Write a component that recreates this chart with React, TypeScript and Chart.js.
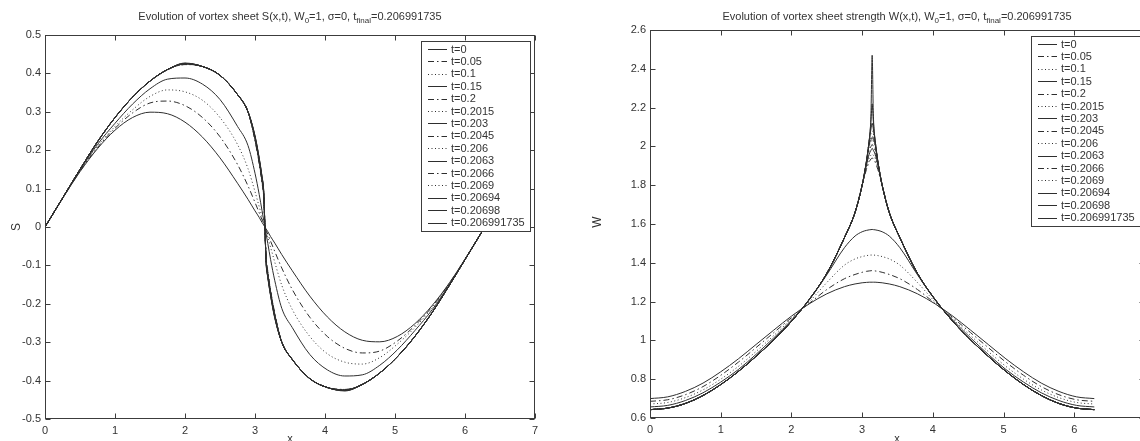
import React, { useEffect, useRef } from 'react';
import { Chart, registerables } from 'chart.js';
Chart.register(...registerables);

const FONT = '"Liberation Sans", Arial, Helvetica, sans-serif';

// ---------- data ----------
const tLabels = ['t=0', 't=0.05', 't=0.1', 't=0.15', 't=0.2', 't=0.2015', 't=0.203', 't=0.2045', 't=0.206', 't=0.2063', 't=0.2066', 't=0.2069', 't=0.20694', 't=0.20698', 't=0.206991735'];
const lineStyles = ['solid', 'dashdot', 'dot', 'solid', 'dashdot', 'dot', 'solid', 'dashdot', 'dot', 'solid', 'dashdot', 'dot', 'solid', 'solid', 'solid'];

const xGrid = [0, 0.25, 0.5, 0.75, 1, 1.25, 1.5, 1.75, 2, 2.25, 2.5, 2.75, 2.9, 3.0, 3.06, 3.1, 3.125, 3.1416, 3.158, 3.183, 3.223, 3.283, 3.383, 3.533, 3.783, 4.033, 4.283, 4.533, 4.783, 5.033, 5.283, 5.533, 5.783, 6.033, 6.283];

const xTicks = [0, 1, 2, 3, 4, 5, 6, 7];
const sTicks = [-0.5, -0.4, -0.3, -0.2, -0.1, 0, 0.1, 0.2, 0.3, 0.4, 0.5];
const wTicks = [0.6, 0.8, 1, 1.2, 1.4, 1.6, 1.8, 2, 2.2, 2.4, 2.6];

// S(x,t)
const s_0 = [0, .074, .144, .204, .252, .285, .299, .295, .273, .234, .180, .114, .072, .042, .025, .012, .005, 0, -.005, -.012, -.025, -.042, -.072, -.114, -.180, -.234, -.273, -.295, -.299, -.285, -.252, -.204, -.144, -.074, 0];
const s_005 = [0, .074, .145, .207, .257, .297, .323, .328, .316, .285, .235, .163, .107, .064, .037, .019, .008, 0, -.008, -.019, -.037, -.064, -.107, -.163, -.235, -.285, -.316, -.328, -.323, -.297, -.257, -.207, -.145, -.074, 0];
const s_01 = [0, .075, .146, .210, .262, .305, .340, .357, .352, .330, .285, .215, .152, .092, .053, .027, .011, 0, -.011, -.027, -.053, -.092, -.152, -.215, -.285, -.330, -.352, -.357, -.340, -.305, -.262, -.210, -.146, -.075, 0];
const s_015 = [0, .075, .148, .215, .270, .320, .360, .385, .388, .372, .332, .262, .212, .140, .085, .043, .017, 0, -.017, -.043, -.085, -.140, -.212, -.262, -.332, -.372, -.388, -.385, -.360, -.320, -.270, -.215, -.148, -.075, 0];
const s_02 = [0, .075, .150, .222, .285, .338, .380, .410, .423, .418, .395, .345, .300, .225, .165, .115, .075, 0, -.075, -.115, -.165, -.225, -.300, -.345, -.395, -.418, -.423, -.410, -.380, -.338, -.285, -.222, -.150, -.075, 0];
const s_02015 = [0, .075, .150, .222, .285, .338, .380, .410, .423, .418, .395, .345, .300, .227, .167, .117, .077, 0, -.077, -.117, -.167, -.227, -.300, -.345, -.395, -.418, -.423, -.410, -.380, -.338, -.285, -.222, -.150, -.075, 0];
const s_0203 = [0, .075, .150, .222, .285, .338, .380, .410, .424, .418, .395, .345, .300, .228, .168, .119, .079, 0, -.079, -.119, -.168, -.228, -.300, -.345, -.395, -.418, -.424, -.410, -.380, -.338, -.285, -.222, -.150, -.075, 0];
const s_02045 = [0, .075, .150, .222, .285, .338, .380, .410, .424, .418, .395, .345, .300, .229, .170, .121, .081, 0, -.081, -.121, -.170, -.229, -.300, -.345, -.395, -.418, -.424, -.410, -.380, -.338, -.285, -.222, -.150, -.075, 0];
const s_0206 = [0, .075, .150, .222, .285, .338, .380, .410, .425, .418, .395, .345, .300, .231, .172, .123, .083, 0, -.083, -.123, -.172, -.231, -.300, -.345, -.395, -.418, -.425, -.410, -.380, -.338, -.285, -.222, -.150, -.075, 0];
const s_02063 = [0, .075, .150, .222, .285, .338, .380, .410, .425, .418, .395, .345, .300, .232, .173, .125, .085, 0, -.085, -.125, -.173, -.232, -.300, -.345, -.395, -.418, -.425, -.410, -.380, -.338, -.285, -.222, -.150, -.075, 0];
const s_02066 = [0, .075, .150, .222, .285, .338, .380, .410, .425, .418, .395, .345, .300, .233, .174, .126, .086, 0, -.086, -.126, -.174, -.233, -.300, -.345, -.395, -.418, -.425, -.410, -.380, -.338, -.285, -.222, -.150, -.075, 0];
const s_02069 = [0, .075, .150, .222, .285, .338, .380, .410, .426, .418, .395, .345, .300, .234, .175, .127, .087, 0, -.087, -.127, -.175, -.234, -.300, -.345, -.395, -.418, -.426, -.410, -.380, -.338, -.285, -.222, -.150, -.075, 0];
const s_020694 = [0, .075, .150, .222, .285, .338, .380, .410, .426, .418, .395, .345, .300, .235, .177, .129, .089, 0, -.089, -.129, -.177, -.235, -.300, -.345, -.395, -.418, -.426, -.410, -.380, -.338, -.285, -.222, -.150, -.075, 0];
const s_020698 = [0, .075, .150, .222, .285, .338, .380, .410, .426, .418, .395, .345, .300, .236, .178, .130, .090, 0, -.090, -.130, -.178, -.236, -.300, -.345, -.395, -.418, -.426, -.410, -.380, -.338, -.285, -.222, -.150, -.075, 0];
const s_final = [0, .075, .150, .222, .285, .338, .380, .410, .427, .418, .395, .345, .300, .238, .180, .132, .092, 0, -.092, -.132, -.180, -.238, -.300, -.345, -.395, -.418, -.427, -.410, -.380, -.338, -.285, -.222, -.150, -.075, 0];

// W(x,t)
const w_0 = [.700, .709, .737, .780, .838, .905, .979, 1.053, 1.125, 1.188, 1.240, 1.277, 1.291, 1.297, 1.299, 1.300, 1.300, 1.300, 1.300, 1.300, 1.299, 1.297, 1.291, 1.277, 1.240, 1.188, 1.125, 1.053, .979, .905, .838, .780, .737, .709, .700];
const w_005 = [.686, .694, .720, .762, .820, .888, .963, 1.040, 1.117, 1.190, 1.262, 1.318, 1.340, 1.351, 1.356, 1.358, 1.359, 1.360, 1.359, 1.358, 1.356, 1.351, 1.340, 1.318, 1.262, 1.190, 1.117, 1.040, .963, .888, .820, .762, .720, .694, .686];
const w_01 = [.672, .680, .705, .745, .800, .866, .943, 1.025, 1.110, 1.198, 1.298, 1.388, 1.420, 1.432, 1.437, 1.439, 1.440, 1.440, 1.440, 1.439, 1.437, 1.432, 1.420, 1.388, 1.298, 1.198, 1.110, 1.025, .943, .866, .800, .745, .705, .680, .672];
const w_015 = [.657, .665, .690, .730, .785, .850, .928, 1.013, 1.104, 1.208, 1.338, 1.478, 1.538, 1.560, 1.567, 1.570, 1.571, 1.572, 1.571, 1.570, 1.567, 1.560, 1.538, 1.478, 1.338, 1.208, 1.104, 1.013, .928, .850, .785, .730, .690, .665, .657];
const w_02 = [.643, .651, .675, .716, .772, .840, .918, 1.003, 1.098, 1.210, 1.345, 1.530, 1.660, 1.800, 1.880, 1.920, 1.935, 1.940, 1.935, 1.920, 1.880, 1.800, 1.660, 1.530, 1.345, 1.210, 1.098, 1.003, .918, .840, .772, .716, .675, .651, .643];
const w_02015 = [.643, .651, .675, .716, .772, .840, .918, 1.003, 1.098, 1.210, 1.345, 1.530, 1.660, 1.800, 1.890, 1.940, 1.955, 1.960, 1.955, 1.940, 1.890, 1.800, 1.660, 1.530, 1.345, 1.210, 1.098, 1.003, .918, .840, .772, .716, .675, .651, .643];
const w_0203 = [.643, .651, .675, .716, .772, .840, .918, 1.003, 1.098, 1.210, 1.345, 1.530, 1.660, 1.800, 1.900, 1.960, 1.980, 1.990, 1.980, 1.960, 1.900, 1.800, 1.660, 1.530, 1.345, 1.210, 1.098, 1.003, .918, .840, .772, .716, .675, .651, .643];
const w_02045 = [.643, .651, .675, .716, .772, .840, .918, 1.003, 1.098, 1.210, 1.345, 1.530, 1.660, 1.800, 1.910, 1.980, 2.000, 2.010, 2.000, 1.980, 1.910, 1.800, 1.660, 1.530, 1.345, 1.210, 1.098, 1.003, .918, .840, .772, .716, .675, .651, .643];
const w_0206 = [.643, .651, .675, .716, .772, .840, .918, 1.003, 1.098, 1.210, 1.345, 1.530, 1.660, 1.800, 1.920, 2.000, 2.025, 2.035, 2.025, 2.000, 1.920, 1.800, 1.660, 1.530, 1.345, 1.210, 1.098, 1.003, .918, .840, .772, .716, .675, .651, .643];
const w_02063 = [.643, .651, .675, .716, .772, .840, .918, 1.003, 1.098, 1.210, 1.345, 1.530, 1.660, 1.800, 1.920, 2.010, 2.035, 2.045, 2.035, 2.010, 1.920, 1.800, 1.660, 1.530, 1.345, 1.210, 1.098, 1.003, .918, .840, .772, .716, .675, .651, .643];
const w_02066 = [.643, .651, .675, .716, .772, .840, .918, 1.003, 1.098, 1.210, 1.345, 1.530, 1.660, 1.800, 1.920, 2.020, 2.045, 2.055, 2.045, 2.020, 1.920, 1.800, 1.660, 1.530, 1.345, 1.210, 1.098, 1.003, .918, .840, .772, .716, .675, .651, .643];
const w_02069 = [.643, .651, .675, .716, .772, .840, .918, 1.003, 1.098, 1.210, 1.345, 1.530, 1.660, 1.800, 1.920, 2.030, 2.065, 2.080, 2.065, 2.030, 1.920, 1.800, 1.660, 1.530, 1.345, 1.210, 1.098, 1.003, .918, .840, .772, .716, .675, .651, .643];
const w_020694 = [.643, .651, .675, .716, .772, .840, .918, 1.003, 1.098, 1.210, 1.345, 1.530, 1.660, 1.800, 1.920, 2.030, 2.090, 2.120, 2.090, 2.030, 1.920, 1.800, 1.660, 1.530, 1.345, 1.210, 1.098, 1.003, .918, .840, .772, .716, .675, .651, .643];
const w_020698 = [.643, .651, .675, .716, .772, .840, .918, 1.003, 1.098, 1.210, 1.345, 1.530, 1.660, 1.800, 1.920, 2.030, 2.130, 2.220, 2.130, 2.030, 1.920, 1.800, 1.660, 1.530, 1.345, 1.210, 1.098, 1.003, .918, .840, .772, .716, .675, .651, .643];
const w_final = [.643, .651, .675, .716, .772, .840, .918, 1.003, 1.098, 1.210, 1.345, 1.530, 1.660, 1.800, 1.920, 2.030, 2.170, 2.470, 2.170, 2.030, 1.920, 1.800, 1.660, 1.530, 1.345, 1.210, 1.098, 1.003, .918, .840, .772, .716, .675, .651, .643];

const sSeries = [s_0, s_005, s_01, s_015, s_02, s_02015, s_0203, s_02045, s_0206, s_02063, s_02066, s_02069, s_020694, s_020698, s_final];
const wSeries = [w_0, w_005, w_01, w_015, w_02, w_02015, w_0203, w_02045, w_0206, w_02063, w_02066, w_02069, w_020694, w_020698, w_final];

// ---------- styling ----------
const DASHES: Record<string, number[]> = { solid: [], dashdot: [6, 3, 1.5, 3], dot: [1, 2.5] };
const LINE_COLOR = '#2e2e2e';
const TEXT_COLOR = '#333';

function makeDatasets(series: number[][]) {
  return series.map((ys, i) => ({
    label: tLabels[i],
    data: ys.map((y, j) => ({ x: xGrid[j], y })),
    borderColor: LINE_COLOR,
    backgroundColor: LINE_COLOR,
    borderWidth: 1,
    borderDash: DASHES[lineStyles[i]],
    pointRadius: 0,
    fill: false,
    cubicInterpolationMode: 'monotone' as const,
  }));
}

const framePlugin = {
  id: 'matlabFrame',
  afterDatasetsDraw(chart: any) {
    const { ctx, chartArea: a, scales } = chart;
    ctx.save();
    ctx.strokeStyle = '#3c3c3c';
    ctx.lineWidth = 1;
    ctx.setLineDash([]);
    const L = Math.round(a.left) + 0.5;
    const R = Math.round(a.right) - 0.5;
    const T = Math.round(a.top) + 0.5;
    const B = Math.round(a.bottom) - 0.5;
    ctx.strokeRect(L, T, R - L, B - T);
    const tl = 5;
    ctx.beginPath();
    scales.x.ticks.forEach((t: any) => {
      const px = Math.round(scales.x.getPixelForValue(t.value)) + 0.5;
      ctx.moveTo(px, B); ctx.lineTo(px, B - tl);
      ctx.moveTo(px, T); ctx.lineTo(px, T + tl);
    });
    scales.y.ticks.forEach((t: any) => {
      const py = Math.round(scales.y.getPixelForValue(t.value)) + 0.5;
      ctx.moveTo(L, py); ctx.lineTo(L + tl, py);
      ctx.moveTo(R, py); ctx.lineTo(R - tl, py);
    });
    ctx.stroke();

    // legend box (inside, north-east)
    const ds = chart.data.datasets;
    ctx.font = `11px ${FONT}`;
    let maxW = 0;
    ds.forEach((d: any) => { maxW = Math.max(maxW, ctx.measureText(d.label).width); });
    const rowH = 12.4;
    const boxW = Math.round(30 + maxW + 5);
    const boxR = Math.round(a.right) - 5;
    const boxL = boxR - boxW;
    const boxT = Math.round(a.top) + 6;
    const boxH = Math.round(8 + (ds.length - 1) * rowH + 8);
    ctx.fillStyle = '#ffffff';
    ctx.fillRect(boxL, boxT, boxW, boxH);
    ctx.strokeStyle = '#3c3c3c';
    ctx.strokeRect(boxL + 0.5, boxT + 0.5, boxW, boxH);
    ds.forEach((d: any, i: number) => {
      const cy = boxT + 8 + i * rowH;
      ctx.beginPath();
      ctx.setLineDash(d.borderDash || []);
      ctx.strokeStyle = d.borderColor;
      ctx.lineWidth = 1;
      ctx.moveTo(boxL + 7, Math.round(cy) + 0.5);
      ctx.lineTo(boxL + 26, Math.round(cy) + 0.5);
      ctx.stroke();
      ctx.setLineDash([]);
      ctx.fillStyle = TEXT_COLOR;
      ctx.textBaseline = 'middle';
      ctx.textAlign = 'left';
      ctx.fillText(d.label, boxL + 30, cy + 0.5);
    });
    ctx.restore();
  },
};

type PlotCfg = {
  series: number[][];
  yTicks: number[];
  yMin: number; yMax: number;
  xMax: number;
  width: number; height: number;
  areaLeft: number; areaRight: number; areaTop: number; areaBottom: number;
};

function Plot({ cfg }: { cfg: PlotCfg }) {
  const ref = useRef<HTMLCanvasElement>(null);
  useEffect(() => {
    if (!ref.current) return;
    const zeroPad = (s: any) => { s.paddingLeft = 0; s.paddingRight = 0; s.paddingTop = 0; s.paddingBottom = 0; };
    const chart = new Chart(ref.current, {
      type: 'line',
      data: { datasets: makeDatasets(cfg.series) as any },
      plugins: [framePlugin],
      options: {
        animation: false,
        responsive: false,
        maintainAspectRatio: false,
        devicePixelRatio: 1,
        layout: { padding: { left: 0, top: cfg.areaTop, right: cfg.width - cfg.areaRight, bottom: 0 } },
        plugins: { legend: { display: false }, tooltip: { enabled: false }, title: { display: false } },
        elements: { line: { tension: 0.4 } },
        scales: {
          x: {
            type: 'linear', min: 0, max: cfg.xMax,
            afterBuildTicks: (s: any) => { s.ticks = xTicks.map((v) => ({ value: v })); },
            afterFit: (s: any) => { s.height = cfg.height - cfg.areaBottom; zeroPad(s); },
            grid: { display: false, drawTicks: false },
            border: { display: false },
            ticks: { padding: 5, autoSkip: false, maxRotation: 0, color: TEXT_COLOR, font: { family: FONT, size: 11 }, callback: (v: any) => String(v) },
          },
          y: {
            type: 'linear', min: cfg.yMin, max: cfg.yMax,
            afterBuildTicks: (s: any) => { s.ticks = cfg.yTicks.map((v) => ({ value: v })); },
            afterFit: (s: any) => { s.width = cfg.areaLeft; zeroPad(s); },
            grid: { display: false, drawTicks: false },
            border: { display: false },
            ticks: { padding: 4, autoSkip: false, color: TEXT_COLOR, font: { family: FONT, size: 11 }, callback: (v: any) => String(v) },
          },
        },
      } as any,
    });
    return () => chart.destroy();
  }, [cfg]);
  return <canvas ref={ref} width={cfg.width} height={cfg.height} style={{ display: 'block', width: cfg.width, height: cfg.height }} />;
}

const leftCfg: PlotCfg = {
  series: sSeries, yTicks: sTicks, yMin: -0.5, yMax: 0.5, xMax: 7,
  width: 570, height: 441, areaLeft: 45, areaRight: 535, areaTop: 35, areaBottom: 419,
};
const rightCfg: PlotCfg = {
  series: wSeries, yTicks: wTicks, yMin: 0.6, yMax: 2.6, xMax: 7,
  width: 600, height: 441, areaLeft: 80, areaRight: 575, areaTop: 30, areaBottom: 418,
};

const titleStyle: React.CSSProperties = {
  position: 'absolute', top: 10, width: 570, textAlign: 'center',
  font: `11px ${FONT}`, color: TEXT_COLOR, lineHeight: '13px', whiteSpace: 'nowrap',
};
const subStyle: React.CSSProperties = { fontSize: 8, verticalAlign: -3, lineHeight: 0 };

export default function App() {
  return (
    <div style={{ position: 'absolute', left: 0, top: 0, width: 1140, height: 441, overflow: 'hidden', background: '#fff' }}>
      <div style={{ position: 'absolute', left: 0, top: 0 }}>
        <Plot cfg={leftCfg} />
      </div>
      <div style={{ position: 'absolute', left: 570, top: 0 }}>
        <Plot cfg={rightCfg} />
      </div>
      <div style={{ ...titleStyle, left: 290 - 285 }}>
        Evolution of vortex sheet S(x,t), W<sub style={subStyle}>0</sub>=1, σ=0, t<sub style={subStyle}>final</sub>=0.206991735
      </div>
      <div style={{ ...titleStyle, left: 897 - 285 }}>
        Evolution of vortex sheet strength W(x,t), W<sub style={subStyle}>0</sub>=1, σ=0, t<sub style={subStyle}>final</sub>=0.206991735
      </div>
      <div style={{ position: 'absolute', left: 16, top: 227, transform: 'translate(-50%,-50%) rotate(-90deg)', font: `12px ${FONT}`, color: TEXT_COLOR }}>S</div>
      <div style={{ position: 'absolute', left: 597, top: 222, transform: 'translate(-50%,-50%) rotate(-90deg)', font: `12px ${FONT}`, color: TEXT_COLOR }}>W</div>
      <div style={{ position: 'absolute', left: 290, top: 432, transform: 'translateX(-50%)', font: `11px ${FONT}`, color: TEXT_COLOR, lineHeight: '13px' }}>x</div>
      <div style={{ position: 'absolute', left: 897, top: 432, transform: 'translateX(-50%)', font: `11px ${FONT}`, color: TEXT_COLOR, lineHeight: '13px' }}>x</div>
    </div>
  );
}
